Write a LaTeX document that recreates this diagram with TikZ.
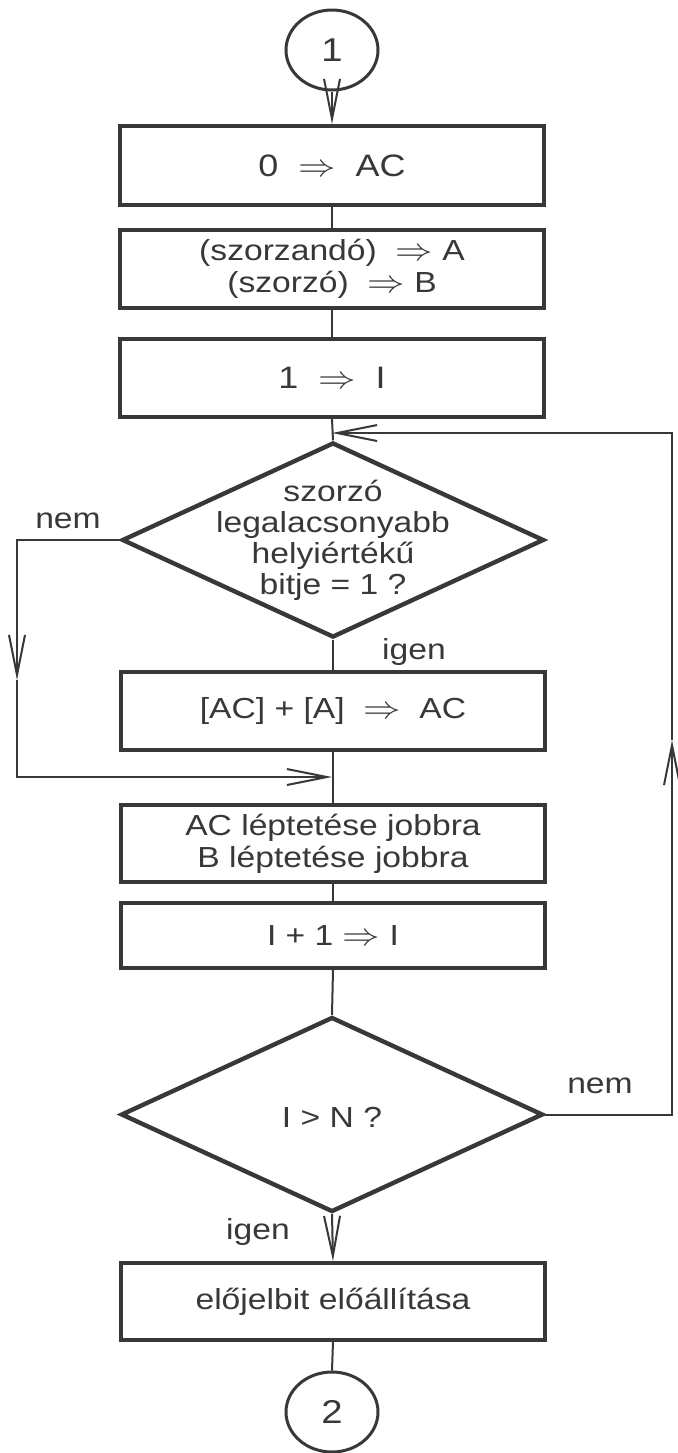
\documentclass[tikz,border=0pt]{standalone}
\usepackage{fontspec}
\setmainfont{Liberation Sans}[FakeStretch=1.16]
\usetikzlibrary{shapes.geometric,arrows.meta}
\definecolor{ink}{gray}{0.22}
% wide, thin implication arrow used in the assignments
\newcommand\asg{\scalebox{1.3}[1.1]{$\Rightarrow$}}

\begin{document}
\begin{tikzpicture}[x=0.5pt,y=-0.5pt,
  txt/.style={text=ink, font=\fontsize{14.5}{16}\selectfont, inner sep=0pt},
  stepbox/.style={txt, draw=ink, line width=2pt, minimum width=212pt,
    minimum height=39pt, align=center},
  decision/.style={draw=ink, line width=2.2pt, shape=diamond, inner sep=0pt,
    minimum width=211pt, minimum height=97.5pt},
  connector/.style={draw=ink, line width=1.5pt, shape=ellipse, inner sep=0pt,
    minimum width=46pt, minimum height=40pt, txt, font=\fontsize{16.5}{18}\selectfont},
  conn/.style={draw=ink, line width=1pt},
  arr/.style={conn, -{Straight Barb[length=20pt,width=8pt]}},
  lbl/.style={txt}
]
\useasboundingbox[fill=white] (0,0) rectangle (677,1453);

% start and end connectors
\node[connector] (c1) at (332,50) {1};
\node[connector] (c2) at (332,1412) {2};

% initialisation steps
\node[stepbox, minimum height=39.5pt, font=\fontsize{15.5}{17}\selectfont] (b1) at (332,165.5) {0 \ \asg{} \ AC};
\node[stepbox] (b2) at (332,269) {(szorzandó) \ \asg{} A\\(szorzó) \ \asg{} B};
\node[stepbox, font=\fontsize{15.5}{17}\selectfont] (b3) at (332,378) {1 \ \asg{} \ I};

% loop body
\node[decision] (d1) at (333,540) {};
\node[txt, align=center, font=\fontsize{14.5}{15.5}\selectfont] (d1t) at (333,540)
  {szorzó\\legalacsonyabb\\helyiértékű\\bitje = 1 ?};
\node[stepbox] (b4) at (333,711) {[AC] + [A] \ \asg{} \ AC};
\node[stepbox, minimum height=38.5pt] (b5) at (333,843.5) {AC léptetése jobbra\\B léptetése jobbra};
\node[stepbox, minimum height=32.5pt] (b6) at (333,935.5) {I + 1 \asg{} I};
\node[decision] (d2) at (332,1114.5) {};
\node[txt] (d2t) at (332,1117) {I > N ?};
\node[stepbox, minimum height=38.5pt] (b7) at (333,1301.5) {előjelbit előállítása};

% branch labels
\node[lbl] (nemL) at (68,521) {nem};
\node[lbl] (igen1) at (414,652) {igen};
\node[lbl] (nemR) at (600,1086) {nem};
\node[lbl] (igen2) at (258,1232) {igen};

% routing points
\coordinate (join) at (332,433);
\coordinate (ltip) at (17,680);
\coordinate (merge) at (332,777);
\coordinate (rcorner) at (672,1114.5);
\coordinate (rtip) at (672,740);

% main flow
\draw[arr] (c1.south) -- (b1.north);
\draw[conn] (b1.south) -- (b2.north);
\draw[conn] (b2.south) -- (b3.north);
\draw[conn] (b3.south) -- (d1.north);
\draw[conn] (d1.south) -- (b4.north);
\draw[conn] (b4.south) -- (b5.north);
\draw[conn] (b5.south) -- (b6.north);
\draw[conn] (b6.south) -- (d2.north);
\draw[arr] (d2.south) -- (b7.north);
\draw[conn] (b7.south) -- (c2.north);

% "nem" bypass around the addition
\draw[arr] (d1.west) -| (ltip);
\draw[arr] (ltip) |- (merge);

% loop back while I <= N
\draw[arr] (d2.east) -- (rcorner) -- (rtip);
\draw[arr] (rtip) |- (join);
\end{tikzpicture}
\end{document}
